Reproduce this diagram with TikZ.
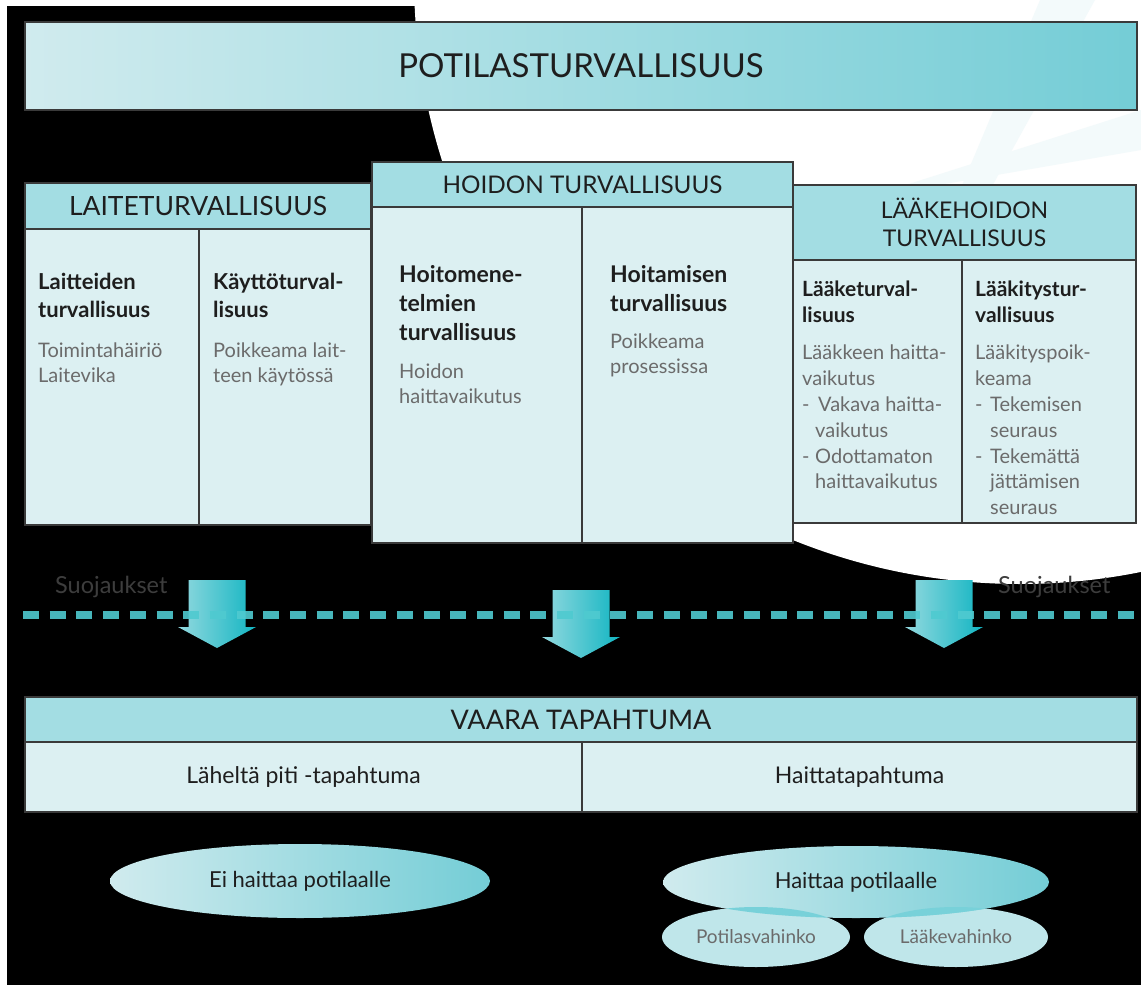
\documentclass[tikz,border=0pt]{standalone}
\usepackage{fontspec}
\setmainfont{Lato}
\usetikzlibrary{shapes.geometric}
\definecolor{hdrcol}{HTML}{A3DDE3}
\definecolor{cellcol}{HTML}{DCF0F2}
\definecolor{edgecol}{HTML}{3A3A3A}
\definecolor{teallight}{HTML}{D0EBEE}
\definecolor{tealdark}{HTML}{74CDD6}
\definecolor{arrlight}{HTML}{93D9DF}
\definecolor{arrdark}{HTML}{12B5C2}
\definecolor{dashcol}{HTML}{4FCAD0}
\definecolor{subcol}{HTML}{6B6B6B}
\definecolor{txtcol}{HTML}{1E1E1E}
\definecolor{suojcol}{HTML}{3D3D3D}
\definecolor{smallcol}{HTML}{BFE6EA}
\definecolor{lenscol}{HTML}{78D1D9}
\definecolor{raycol}{HTML}{F3FAFB}

\begin{document}
\begin{tikzpicture}[x=1pt,y=-1pt,
	box/.style={draw=edgecol,line width=1.5pt,inner sep=0pt,outer sep=0pt,text=txtcol},
	hdr/.style={box,fill=hdrcol},
	cell/.style={box,fill=cellcol},
	head/.style={anchor=north west,inner sep=0pt,align=left,text=txtcol,
		font=\bfseries\fontsize{22}{28}\selectfont},
	sub/.style={anchor=north west,inner sep=0pt,align=left,text=subcol,
		font=\fontsize{20}{25}\selectfont},
	oval/.style={ellipse,inner sep=0pt,text=txtcol},
	suoj/.style={anchor=base west,inner sep=0pt,text=suojcol,font=\fontsize{23.5}{26}\selectfont},
%	txt/.style={text width=160pt},
]
	\useasboundingbox (0,0) rectangle (1141,985);
	\fill[black] (7,6) rectangle (1141,985);
	\fill[white] (1020,-22) circle (606);
	\begin{scope}
		\clip (1020,-22) circle (606);
		\fill[raycol] (1040,0) -- (1095,0) -- (990,190) -- (960,190) -- cycle;
		\fill[raycol] (1141,110) -- (1141,150) -- (910,190) -- (890,190) -- cycle;
	\end{scope}

	% top
	\node[box,minimum width=1112,minimum height=88,left color=teallight,right color=tealdark,
		font=\fontsize{33}{40}\selectfont] (potila) at (581,66) {POTILASTURVALLISUUS};

	% three columns
	\node[hdr,minimum width=346,minimum height=46,font=\fontsize{26.5}{30}\selectfont]
		(laite) at (198,206) {LAITETURVALLISUUS};
	\node[cell,minimum width=174,minimum height=296] (laiteA) at (112,377) {};
	\node[cell,minimum width=172,minimum height=296] (laiteB) at (285,377) {};

	\node[hdr,minimum width=343,minimum height=75,align=center,font=\fontsize{23}{28}\selectfont]
		(laake) at (964.5,222.5) {LÄÄKEHOIDON\\TURVALLISUUS};
	\node[cell,minimum width=169,minimum height=263] (laakeA) at (877.5,391.5) {};
	\node[cell,minimum width=174,minimum height=263] (laakeB) at (1049,391.5) {};

	\node[hdr,minimum width=421,minimum height=45,font=\fontsize{24.3}{28}\selectfont]
		(hoito) at (582.5,184.5) {HOIDON TURVALLISUUS};
	\node[cell,minimum width=210,minimum height=336] (hoitoA) at (477,375) {};
	\node[cell,minimum width=211,minimum height=336] (hoitoB) at (687.5,375) {};

	\node[head] (laiteAt) at (38,273) {Laitteiden\\turvallisuus};
	\node[sub] (laiteAs) at (38,343) {Toimintahäiriö\\Laitevika};
	\node[head] (laiteBt) at (213,273) {Käyttöturval-\\lisuus};
	\node[sub] (laiteBs) at (213,343) {Poikkeama lait-\\teen käytössä};

	\node[head,font=\bfseries\fontsize{23}{29}\selectfont] (hoitoAt) at (399,265)
		{Hoitomene-\\telmien\\turvallisuus};
	\node[sub] (hoitoAs) at (399,364) {Hoidon\\haittavaikutus};
	\node[head,font=\bfseries\fontsize{23}{29}\selectfont] (hoitoBt) at (610,265)
		{Hoitamisen\\turvallisuus};
	\node[sub] (hoitoBs) at (610,334) {Poikkeama\\prosessissa};

	\node[head,font=\bfseries\fontsize{21}{26}\selectfont] (laakeAt) at (802,281)
		{Lääketurval-\\lisuus};
	\node[sub,font=\fontsize{20}{25.8}\selectfont] (laakeAs) at (802,345)
		{Lääkkeen haitta-\\vaikutus\\\makebox[16pt][l]{-}Vakava haitta-\\\hspace*{13pt}vaikutus\\
		\makebox[13pt][l]{-}Odottamaton\\\hspace*{13pt}haittavaikutus};
	\node[head,font=\bfseries\fontsize{21}{26}\selectfont] (laakeBt) at (975,281)
		{Lääkitystur-\\vallisuus};
	\node[sub,font=\fontsize{20}{25.8}\selectfont] (laakeBs) at (975,345)
		{Lääkityspoik-\\keama\\\makebox[15pt][l]{-}Tekemisen\\\hspace*{15pt}seuraus\\
		\makebox[15pt][l]{-}Tekemättä\\\hspace*{15pt}jättämisen\\\hspace*{15pt}seuraus};

	% barriers
	\foreach \ax/\ay in {217/580,581/590,944/580}{
		\shade[left color=arrlight,right color=arrdark] ({\ax-28.5},\ay) -- ({\ax+28.5},\ay)
			-- ({\ax+28.5},\ay+47) -- ({\ax+39},\ay+47) -- (\ax,\ay+68) -- ({\ax-39},\ay+47)
			-- ({\ax-28.5},\ay+47) -- cycle;
	}
	\draw[dashcol,line width=8pt,dash pattern=on 16pt off 10.7pt,opacity=0.9] (23,615) -- (1141,615);
	\node[suoj] (suojL) at (55,593) {Suojaukset};
	\node[suoj] (suojR) at (998,593) {Suojaukset};

	% event
	\node[hdr,minimum width=1112,minimum height=45,font=\fontsize{27}{30}\selectfont]
		(vaara) at (581,719.5) {VAARA TAPAHTUMA};
	\node[cell,minimum width=557,minimum height=70,font=\fontsize{23}{26}\selectfont]
		(vaaraA) at (303.5,777) {Läheltä piti -tapahtuma};
	\node[cell,minimum width=555,minimum height=70,font=\fontsize{23}{26}\selectfont]
		(vaaraB) at (859.5,777) {Haittatapahtuma};

	% outcomes
	\node[oval,minimum width=380,minimum height=74,left color=teallight,right color=tealdark,
		font=\fontsize{22}{26}\selectfont] (eiH) at (300,881) {Ei haittaa potilaalle};
	\node[oval,minimum width=188,minimum height=60,fill=smallcol,text=subcol,
		font=\fontsize{19}{22}\selectfont] (potvah) at (756,937) {Potilasvahinko};
	\node[oval,minimum width=184,minimum height=60,fill=smallcol,text=subcol,
		font=\fontsize{19}{22}\selectfont] (laakevah) at (956,937) {Lääkevahinko};
	\node[oval,minimum width=386,minimum height=72,left color=teallight,right color=tealdark,
		font=\fontsize{22}{26}\selectfont] (haitta) at (856,882) {Haittaa potilaalle};
	\foreach \cx/\rx in {756/94,956/92}{
		\begin{scope}
			\clip (\cx,937) ellipse [x radius=\rx,y radius=30];
			\fill[lenscol] (856,882) ellipse [x radius=193,y radius=36];
		\end{scope}
	}
\end{tikzpicture}
\end{document}
